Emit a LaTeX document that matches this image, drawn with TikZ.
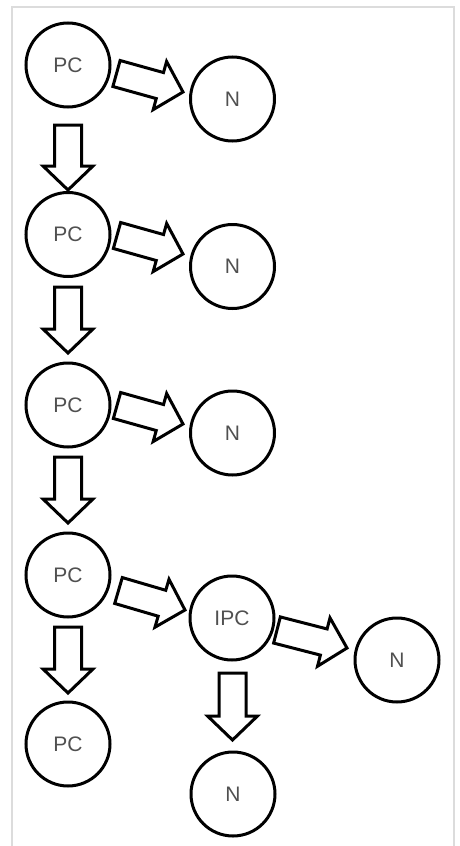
\documentclass[tikz,border=0pt]{standalone}
\usepackage{fontspec}
\setmainfont{Liberation Sans}
\usetikzlibrary{calc}
\definecolor{txtgray}{RGB}{80,80,80}
\definecolor{framegray}{RGB}{220,220,220}
\newcommand\blkarrow[2]{%
  \coordinate (neck) at ($(#2)!24pt!(#1)$);
  \draw[blockarrow] ($(#1)!13.5pt!90:(#2)$) -- ($(neck)!13.5pt!-90:(#1)$) -- ($(neck)!25pt!-90:(#1)$) -- (#2) -- ($(neck)!25pt!90:(#1)$) -- ($(neck)!13.5pt!90:(#1)$) -- ($(#1)!13.5pt!-90:(#2)$) -- cycle;}
\begin{document}
\begin{tikzpicture}[x=1pt,y=-1pt,
  cell/.style={circle, draw=black, line width=3pt, minimum size=84pt, inner sep=0pt,
    text=txtgray, font=\fontsize{21}{24}\selectfont},
  blockarrow/.style={draw=black, fill=white, line width=3pt, line join=miter}]
\useasboundingbox (0,0) rectangle (459,846);
\draw[framegray, line width=2pt] (12,846) -- (12,7) -- (454,7) -- (454,846);
% nodes
\node[cell] (pc1) at (68,65) {PC};
\node[cell] (pc2) at (68,234.5) {PC};
\node[cell] (pc3) at (68,405) {PC};
\node[cell] (pc4) at (68,575) {PC};
\node[cell] (pc5) at (68,744) {PC};
\node[cell] (n1) at (232.5,99) {N};
\node[cell] (n2) at (232.5,266.5) {N};
\node[cell] (n3) at (232.5,433) {N};
\node[cell] (ipc) at (232,618) {IPC};
\node[cell] (n4) at (397,660) {N};
\node[cell] (n5) at (233,794) {N};
% arrow ends
\coordinate (h1s) at (116.5,73.5); \coordinate (h1e) at (183,92);
\coordinate (h2s) at (117,235.5); \coordinate (h2e) at (183,254);
\coordinate (h3s) at (117,405.5); \coordinate (h3e) at (183,424);
\coordinate (h4s) at (118.5,590.5); \coordinate (h4e) at (185,610);
\coordinate (h5s) at (277,630); \coordinate (h5e) at (347,648);
\coordinate (d1s) at (68,125); \coordinate (d1e) at (68,190);
\coordinate (d2s) at (68,287); \coordinate (d2e) at (68,353);
\coordinate (d3s) at (68,457); \coordinate (d3e) at (68,523);
\coordinate (d4s) at (68,627); \coordinate (d4e) at (68,693);
\coordinate (d5s) at (232.5,673); \coordinate (d5e) at (232.5,740);
\blkarrow{h1s}{h1e}
\blkarrow{h2s}{h2e}
\blkarrow{h3s}{h3e}
\blkarrow{h4s}{h4e}
\blkarrow{h5s}{h5e}
\blkarrow{d1s}{d1e}
\blkarrow{d2s}{d2e}
\blkarrow{d3s}{d3e}
\blkarrow{d4s}{d4e}
\blkarrow{d5s}{d5e}
\end{tikzpicture}
\end{document}
